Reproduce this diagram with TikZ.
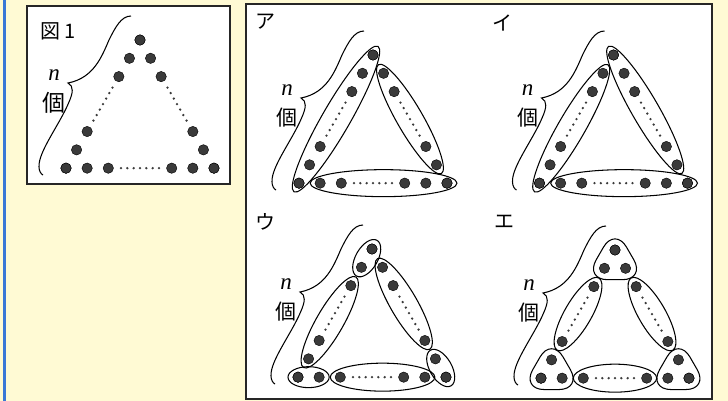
\documentclass[tikz,border=0pt]{standalone}
\usepackage{fontspec}
\newfontfamily\jp{Noto Sans CJK JP}
\newfontfamily\tms{Liberation Serif}
\usetikzlibrary{calc}
\definecolor{bgy}{RGB}{255,250,212}
\definecolor{bluel}{RGB}{58,120,214}
\definecolor{dotc}{RGB}{58,58,58}
\newcommand\tri[4]{%
  \coordinate (#1T) at (#2,-#3);
  \foreach \h in {0,...,14}{
    \coordinate (#1L\h) at ($(#1T)+(240:\h*10.57)$);
    \coordinate (#1R\h) at ($(#1T)+(300:\h*10.57)$);
    \coordinate (#1B\h) at ($(#1T)+(-74,-128.16)+(\h*10.57,0)$);
  }
  \foreach \h in {0,2,4,10,12,14}{
    \draw[bead] (#1L\h) circle (5.2);
    \draw[bead] (#1R\h) circle (5.2);
    \draw[bead] (#1B\h) circle (5.2);
  }
  \foreach \k in {0,...,6}{
    \fill[dotc] ($(#1T)+(240:{(2.6+0.3*\k)*21.14})$) circle (1.3);
    \fill[dotc] ($(#1T)+(300:{(2.6+0.3*\k)*21.14})$) circle (1.3);
    \fill[dotc] ($(#1T)+(-74,-128.16)+({(2.6+0.3*\k)*21.14},0)$) circle (1.3);
  }
  \begin{scope}[shift={(#1T)}]
    \draw[brace] (-9,24) .. controls (-19,24) and (-25,12) .. (-31,0)
      .. controls (-38,-16) and (-46,-38) .. (-72,-43)
      .. controls (-66,-46) and (-67,-53) .. (-71,-62)
      .. controls (-80,-84) and (-102,-112) .. (-101,-127)
      .. controls (-101,-131) and (-99,-134) .. (-97,-135);
    \node[font=\tms\itshape\fontsize{23}{23}\selectfont, inner sep=0pt] (#1n) at (-86,-35) {n};
    \node[font=\jp\fontsize{#4}{#4}\selectfont, inner sep=0pt] (#1ko) at (-86,-63) {個};
  \end{scope}
}
\newcommand\grpell[4]{\draw[grp, shift={(#1)}, rotate=#2] (0,0) ellipse ({#3} and {#4});}
\newcommand\grptri[1]{\draw[grp, rounded corners=23pt, shift={(#1)}] (90:35) -- (210:35) -- (330:35) -- cycle;}
\begin{document}
\begin{tikzpicture}[x=1pt,y=1pt,
  bead/.style={fill=dotc, draw=black, line width=0.4pt},
  grp/.style={draw=black, line width=1.05pt},
  brace/.style={draw=black, line width=1.05pt},
  frame/.style={draw=black!85, line width=1.3pt, fill=white},
  lab/.style={font=\jp\fontsize{20}{20}\selectfont, inner sep=0pt}]
\useasboundingbox (0,0) rectangle (728,-401);
\fill[bgy] (0,0) rectangle (728,-401);
\fill[bluel] (3,0) rectangle (6,-401);
\draw[frame] (27,-6) rectangle (230,-184);
\draw[frame] (246,-4) rectangle (712,-399);
\node[lab] (fig) at (58,-31) {図\hspace{4pt}1};
\node[lab] (la) at (265,-22) {ア};
\node[lab] (lb) at (502,-23) {イ};
\node[lab] (lc) at (265,-222) {ウ};
\node[lab] (ld) at (504,-222) {エ};
% figure 1
\tri{f}{140}{40}{23}
% panel a
\tri{a}{373}{55}{21}
\grpell{aL7}{60}{84}{14}
\grpell{aR7}{-60}{62.9}{13}
\grpell{aB8}{0}{73.4}{13.5}
% panel b
\tri{b}{613.5}{55}{21}
\grpell{bL8}{60}{73.4}{13.5}
\grpell{bR6}{-60}{73.4}{13.5}
\grpell{bB8}{0}{73.4}{13.5}
% panel c
\tri{c}{372}{249}{21}
\grpell{cL1}{60}{20.6}{11}
\grpell{cL8}{60}{52.3}{13.5}
\grpell{cB1}{0}{20.6}{10.5}
\grpell{cB8}{0}{52.3}{14}
\grpell{cR13}{-60}{20.6}{11}
\grpell{cR6}{-60}{52.3}{13.5}
% panel d
\tri{d}{615}{250}{21}
\grpell{dL7}{60}{41.7}{13.5}
\grpell{dR7}{-60}{41.7}{13.5}
\grpell{dB7}{0}{41.7}{14}
\coordinate (dG1) at ($(dT)+(0,-12.2)$);
\coordinate (dG2) at ($(dB1)+(0,6.1)$);
\coordinate (dG3) at ($(dB13)+(0,6.1)$);
\grptri{dG1}
\grptri{dG2}
\grptri{dG3}
\end{tikzpicture}
\end{document}
